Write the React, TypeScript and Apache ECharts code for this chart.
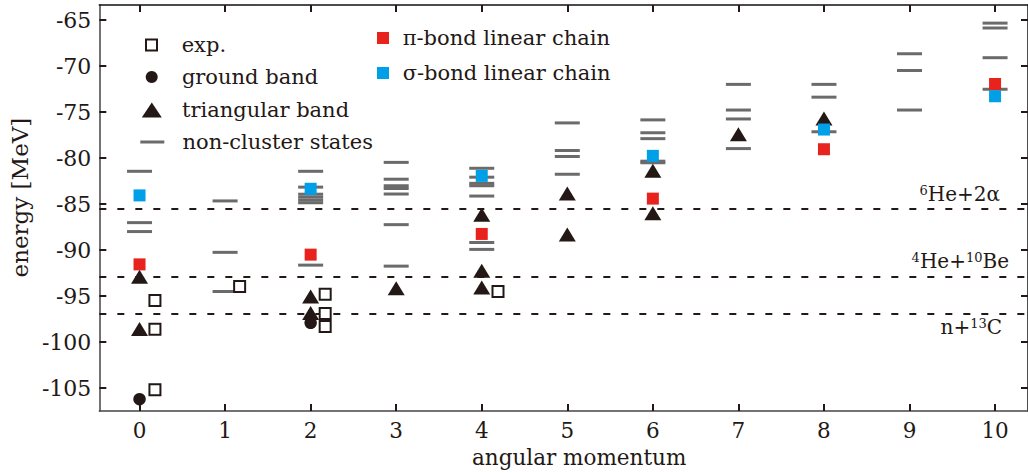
import React, { useEffect, useRef } from 'react';
import * as echarts from 'echarts';

const FONT = '"DejaVu Serif", "Liberation Serif", serif';
const INK = '#231815';
const GRAY = '#6b6b6b';
const RED = '#e8221c';
const BLUE = '#00a0e8';

const xTicks = [0, 1, 2, 3, 4, 5, 6, 7, 8, 9, 10];
const yTicks = [-105, -100, -95, -90, -85, -80, -75, -70, -65];

// non-cluster states, listed per angular momentum 0..10
const nonClusterLevels: number[][] = [
  [-81.43, -87.01, -87.98],
  [-84.65, -90.24, -94.5],
  [-81.43, -83.15, -83.92, -84.24, -84.56, -84.85, -91.63],
  [-80.46, -82.29, -83.0, -83.3, -83.9, -87.23, -91.74],
  [-81.1, -82.07, -82.74, -83.0, -84.12, -89.17, -89.92],
  [-76.17, -79.17, -79.82, -81.75],
  [-75.84, -77.24, -77.88, -80.33, -80.5],
  [-71.98, -74.77, -75.74, -78.96],
  [-71.98, -73.37, -77.13],
  [-68.65, -70.47, -74.77],
  [-65.32, -65.85, -69.08, -72.51],
];

const piBond: number[][] = [[0, -91.55], [2, -90.49], [4, -88.24], [6, -84.4], [8, -79.03], [10, -71.94]];
const sigmaBond: number[][] = [[0, -84.05], [2, -83.33], [4, -81.93], [6, -79.75], [8, -76.89], [10, -73.27]];
const triangular: number[][] = [
  [0, -92.89], [0, -98.58], [2, -95.04], [2, -96.83], [3, -94.14], [4, -86.15], [4, -92.25],
  [4, -94.07], [5, -83.83], [5, -88.3], [6, -81.36], [6, -86.0], [7, -77.39], [8, -75.7],
];
const ground: number[][] = [[0, -106.2], [2, -97.9]];
const exp: number[][] = [
  [0.18, -95.47], [0.18, -98.6], [0.18, -105.19], [1.17, -93.96],
  [2.17, -94.8], [2.17, -96.9], [2.17, -98.3], [4.19, -94.5],
];

const thresholds = [
  { value: -85.5, text: '{s|6}{m|He+2α}', pos: 'insideEndTop', dist: [28, 5] },
  { value: -92.9, text: '{s|4}{m|He+}{s|10}{m|Be}', pos: 'insideEndTop', dist: [19, 6] },
  { value: -96.9, text: '{m|n+}{s|13}{m|C}', pos: 'insideEndBottom', dist: [26, 3] },
];

const X_MIN = -0.47;
const X_MAX = 10.385;
const Y_MIN = -107.5;
const Y_MAX = -63.35;

const nonClusterData = nonClusterLevels.flatMap((levels, j) => levels.map((e) => [j, e]));

const legendRow = (name: string, icon: string, left: number, top: number, w: number, h: number) => ({
  show: true,
  orient: 'vertical',
  left,
  top,
  padding: 0,
  itemWidth: w,
  itemHeight: h,
  selectedMode: false,
  data: [{ name, icon }],
  textStyle: { fontFamily: FONT, fontSize: 21, lineHeight: 22, color: INK },
});

export default function App() {
  const ref = useRef<HTMLDivElement>(null);
  useEffect(() => {
    if (!ref.current) return;
    const chart = echarts.init(ref.current, null, { renderer: 'svg' });
    const axisLine = { show: true, onZero: false, lineStyle: { color: '#444', width: 1.5 } };
    const tickStyle = { color: INK, width: 2 };
    const labelStyle = { fontFamily: FONT, fontSize: 21.5, color: INK };
    const sq = 'path://M0,0H12V12H0Z';
    const option: any = {
      animation: false,
      grid: { left: 91, top: 5, right: -3, bottom: 57, containLabel: false },
      legend: [
        legendRow('exp.', 'path://M0,0H11V11H0Z', 145, 34, 50.4, 11),
        legendRow('ground band', 'circle', 145.7, 66, 50.4, 12),
        legendRow('triangular band', 'path://M10,0L20,15L0,15Z', 141.8, 99, 50.4, 15),
        legendRow('non-cluster states', 'path://M0,0H24V3H0Z', 140.3, 131, 50.4, 3),
        legendRow('π-bond linear chain', sq, 377, 27, 29.4, 12),
        legendRow('σ-bond linear chain', sq, 377, 62, 29.4, 12),
      ],
      xAxis: [
        {
          type: 'value', min: X_MIN, max: X_MAX, position: 'bottom',
          axisLine,
          axisTick: { show: true, inside: true, length: 7, lineStyle: tickStyle, customValues: xTicks },
          axisLabel: { show: true, customValues: xTicks, margin: 8, ...labelStyle },
          splitLine: { show: false },
          name: 'angular momentum', nameLocation: 'middle', nameGap: 25,
          nameTextStyle: { fontFamily: FONT, fontSize: 21.5, color: INK, padding: [0, 0, 0, 31] },
        },
        {
          type: 'value', min: X_MIN, max: X_MAX, position: 'top',
          axisLine: { ...axisLine, lineStyle: { color: '#111', width: 1.5 } },
          axisTick: { show: true, inside: true, length: 7, lineStyle: tickStyle, customValues: xTicks },
          axisLabel: { show: false },
          splitLine: { show: false },
        },
      ],
      yAxis: [
        {
          type: 'value', min: Y_MIN, max: Y_MAX, position: 'left',
          axisLine,
          axisTick: { show: true, inside: true, length: 7, lineStyle: tickStyle, customValues: yTicks },
          axisLabel: { show: true, customValues: yTicks, margin: 8, ...labelStyle, fontSize: 22 },
          splitLine: { show: false },
          name: 'energy [MeV]', nameLocation: 'middle', nameGap: 48,
          nameTextStyle: { fontFamily: FONT, fontSize: 23, color: INK, padding: [0, 0, 0, 21] },
        },
        {
          type: 'value', min: Y_MIN, max: Y_MAX, position: 'right',
          axisLine: { ...axisLine, lineStyle: { color: '#111', width: 1.5 } },
          axisTick: { show: true, inside: true, length: 7, lineStyle: tickStyle, customValues: yTicks },
          axisLabel: { show: false },
          splitLine: { show: false },
        },
      ],
      series: [
        {
          name: 'non-cluster states', type: 'scatter', symbol: 'rect', symbolSize: [25, 3],
          itemStyle: { color: GRAY, opacity: 1 }, data: nonClusterData, z: 2, silent: true,
          markLine: {
            silent: true, z: 1, symbol: ['none', 'none'], animation: false,
            lineStyle: { color: INK, width: 1.8, type: [7, 11], opacity: 1 },
            emphasis: { disabled: true },
            data: thresholds.map((t) => ({
              yAxis: t.value,
              label: {
                show: true, position: t.pos, distance: t.dist, formatter: t.text,
                rich: {
                  m: { fontFamily: FONT, fontSize: 20, lineHeight: 20, color: INK },
                  s: { fontFamily: FONT, fontSize: 13, lineHeight: 13, verticalAlign: 'top', color: INK },
                },
              },
            })),
          },
        },
        {
          name: 'triangular band', type: 'scatter', symbol: 'triangle', symbolSize: [17, 14],
          itemStyle: { color: INK, opacity: 1 }, data: triangular, z: 3, silent: true,
        },
        {
          name: 'ground band', type: 'scatter', symbol: 'circle', symbolSize: 12.5,
          itemStyle: { color: INK, opacity: 1 }, data: ground, z: 3, silent: true,
        },
        {
          name: 'π-bond linear chain', type: 'scatter', symbol: 'rect', symbolSize: 12,
          itemStyle: { color: RED, opacity: 1 }, data: piBond, z: 4, silent: true,
        },
        {
          name: 'σ-bond linear chain', type: 'scatter', symbol: 'rect', symbolSize: 12,
          itemStyle: { color: BLUE, opacity: 1 }, data: sigmaBond, z: 4, silent: true,
        },
        {
          name: 'exp.', type: 'scatter', symbol: 'rect', symbolSize: 11,
          itemStyle: { color: '#ffffff', borderColor: INK, borderWidth: 2, opacity: 1 }, data: exp, z: 5, silent: true,
        },
      ],
    };
    chart.setOption(option);
    return () => chart.dispose();
  }, []);
  return (
    <div
      ref={ref}
      style={{ position: 'fixed', left: 0, top: 0, width: 1028, height: 473, background: '#fff' }}
    />
  );
}
